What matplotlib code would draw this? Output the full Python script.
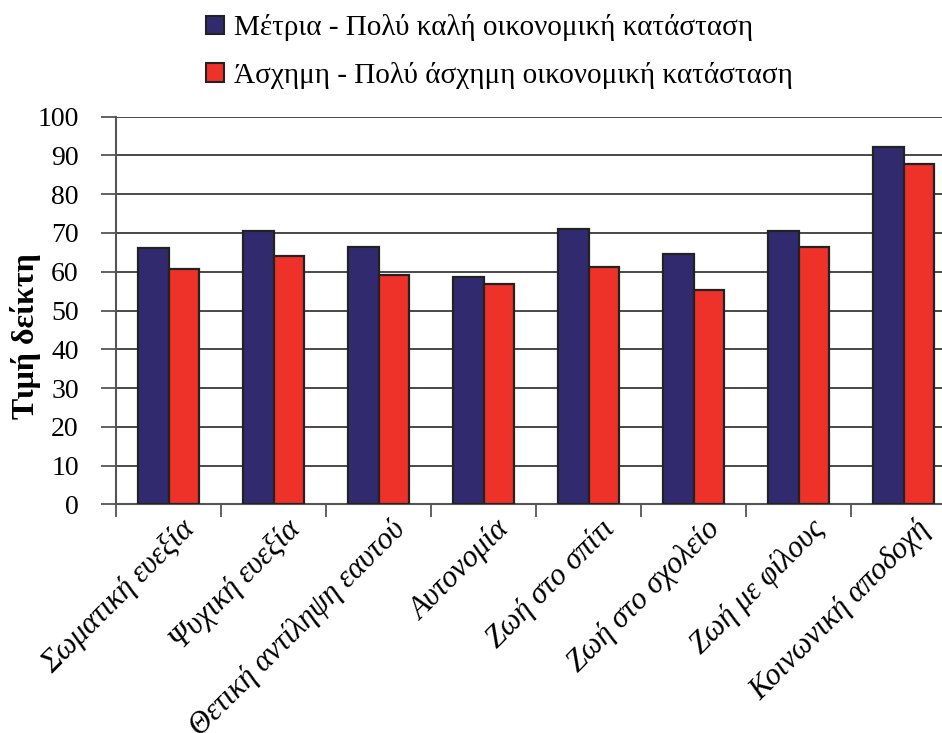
import matplotlib.pyplot as plt
import matplotlib.transforms as mtransforms
from matplotlib.patches import Patch
import numpy as np

plt.rcParams['font.family'] = ['Liberation Serif', 'DejaVu Serif']

# data
categories = ['Σωματική ευεξία', 'Ψυχική ευεξία', 'Θετική αντίληψη εαυτού', 'Αυτονομία',
              'Ζωή στο σπίτι', 'Ζωή στο σχολείο', 'Ζωή με φίλους', 'Κοινωνική αποδοχή']
good = [66.0, 70.4, 66.5, 58.7, 70.9, 64.5, 70.4, 92.2]
bad = [60.6, 64.0, 59.2, 56.9, 61.1, 55.3, 66.5, 87.9]
series_names = ['Μέτρια - Πολύ καλή οικονομική κατάσταση',
                'Άσχημη - Πολύ άσχημη οικονομική κατάσταση']
yticks = list(range(0, 101, 10))

c_good = '#312A6F'
c_bad = '#EE3129'

W, H = 942, 733
fig = plt.figure(figsize=(W / 100, H / 100), dpi=100)
# plot area is cut by the right edge in the original
ax = fig.add_axes([116.3 / W, (H - 504.3) / H, (956 - 116.3) / W, (504.3 - 116.7) / H])

x = np.arange(len(categories))
bw = 0.29
ax.bar(x - bw / 2, good, bw, color=c_good, edgecolor='#222222', lw=1.6, zorder=3)
ax.bar(x + bw / 2, bad, bw, color=c_bad, edgecolor='#222222', lw=1.6, zorder=3)

ax.set_xlim(-0.5, len(categories) - 0.5)
ax.set_ylim(0, 100)
ax.set_yticks(yticks)
ax.yaxis.grid(True, color='#3a3a3a', lw=1.3, zorder=0)
ax.set_axisbelow(True)

for s in ['top', 'right']:
    ax.spines[s].set_visible(False)
for s in ['left', 'bottom']:
    ax.spines[s].set_color('#555555')
    ax.spines[s].set_linewidth(1.5)

ax.tick_params(axis='y', length=11, width=1.3, color='#555555', pad=16, labelsize=20)
ax.set_xticks(np.arange(len(categories) + 1) - 0.5)
ax.set_xticklabels([])
ax.tick_params(axis='x', which='major', length=9, width=1.3, color='#555555')
ax.set_xticks(x, minor=True)
ax.set_xticklabels(categories, minor=True, rotation=45, ha='right', va='center',
                   rotation_mode='anchor', fontsize=22, style='italic')
ax.tick_params(axis='x', which='minor', length=0, pad=0)
offset = mtransforms.ScaledTranslation(22 / 100, -21 / 100, fig.dpi_scale_trans)
for lab in ax.get_xticklabels(minor=True):
    lab.set_transform(lab.get_transform() + offset)

fig.text(26 / W, 1 - 336 / H, 'Τιμή δείκτη', rotation=90, ha='center', va='center',
         fontsize=23, fontweight='bold')

handles = [Patch(facecolor=c_good, edgecolor='#222222', lw=1.5),
           Patch(facecolor=c_bad, edgecolor='#222222', lw=1.5)]
fig.legend(handles, series_names, loc='upper left', bbox_to_anchor=(180 / W, 1 + 12 / H),
           frameon=False, fontsize=21, handlelength=0.6, handleheight=0.6,
           handletextpad=0.35, labelspacing=0.7)

fig.savefig('out.png', dpi=100)
